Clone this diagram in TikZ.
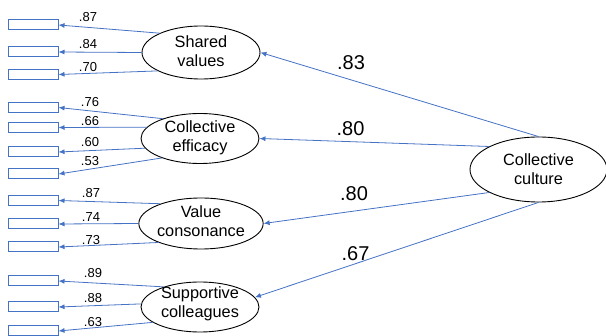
\documentclass[tikz,border=0pt]{standalone}
\usepackage{fontspec}
\setmainfont{Liberation Sans}
\usetikzlibrary{shapes.geometric,arrows.meta}
\definecolor{lblue}{HTML}{4472C4}
\begin{document}
\begin{tikzpicture}[x=1pt,y=-1pt,
 latent/.style={ellipse,draw=black,line width=0.9pt,fill=white,minimum width=118pt,minimum height=51pt,inner sep=0pt,align=center,text depth=0pt,font=\fontsize{16.3}{19}\selectfont},
 obs/.style={rectangle,draw=lblue,line width=1pt,fill=white,minimum width=50pt,minimum height=10pt,inner sep=0pt},
 load/.style={draw=lblue,line width=0.8pt,-{Latex[length=6pt,width=5pt]}},
 small/.style={font=\fontsize{13}{15}\selectfont,inner sep=0pt},
 big/.style={font=\fontsize{20}{24}\selectfont,inner sep=0pt}]
\useasboundingbox (0,0) rectangle (606,336);

% latent variables
\node[latent,minimum height=53pt,text height=28pt] (sv) at (201,52.5) {Shared\\values};
\node[latent,minimum height=50pt,text height=26pt] (ce) at (200,138.5) {Collective\\efficacy};
\node[latent,text height=26pt] (vc) at (201,223.5) {Value\\consonance};
\node[latent,minimum height=50pt,text height=21pt] (sc) at (200,307) {Supportive\\colleagues};
\node[latent,minimum width=137pt,minimum height=65pt,text height=31pt] (cc) at (538.5,169.5) {Collective\\culture};

% observed indicators
\node[obs] (r1) at (33,25) {};
\node[obs] (r2) at (33,52) {};
\node[obs] (r3) at (33,74.5) {};
\node[obs] (r4) at (33,107.5) {};
\node[obs] (r5) at (33,127.5) {};
\node[obs] (r6) at (33,152) {};
\node[obs] (r7) at (33,174) {};
\node[obs] (r8) at (33,200.5) {};
\node[obs] (r9) at (33,224) {};
\node[obs] (r10) at (33,247) {};
\node[obs] (r11) at (33,281) {};
\node[obs] (r12) at (33,307) {};
\node[obs] (r13) at (33,331) {};

% loadings of indicators
\draw[load] (sv.155) -- (r1.east);
\draw[load] (sv.west) -- (r2.east);
\draw[load] (sv.203) -- (r3.east);
\draw[load] (ce.152) -- (r4.east);
\draw[load] (ce.168) -- (r5.east);
\draw[load] (ce.190) -- (r6.east);
\draw[load] (ce.207) -- (r7.east);
\draw[load] (vc.154) -- (r8.east);
\draw[load] (vc.west) -- (r9.east);
\draw[load] (vc.204) -- (r10.east);
\draw[load] (sc.151) -- (r11.east);
\draw[load] (sc.177) -- (r12.east);
\draw[load] (sc.198) -- (r13.east);

\node[small] (l1) at (88,17.5) {.87};
\node[small] (l2) at (88,44.5) {.84};
\node[small] (l3) at (88,67.5) {.70};
\node[small] (l4) at (90,102) {.76};
\node[small] (l5) at (90,121) {.66};
\node[small] (l6) at (90,142.5) {.60};
\node[small] (l7) at (90,161.5) {.53};
\node[small] (l8) at (91,193) {.87};
\node[small] (l9) at (91,217) {.74};
\node[small] (l10) at (91,240.5) {.73};
\node[small] (l11) at (93,273) {.89};
\node[small] (l12) at (93,298) {.88};
\node[small] (l13) at (93,322) {.63};

% second-order loadings
\draw[load] (cc.north) -- (sv.east);
\draw[load] (cc.155) -- (ce.east);
\draw[load] (cc.205) -- (vc.east);
\draw[load] (cc.south) -- (sc.10);

\node[big] (b1) at (351,62.5) {.83};
\node[big] (b2) at (350.5,128.5) {.80};
\node[big] (b3) at (354,193.5) {.80};
\node[big] (b4) at (355.5,253.5) {.67};
\end{tikzpicture}
\end{document}
